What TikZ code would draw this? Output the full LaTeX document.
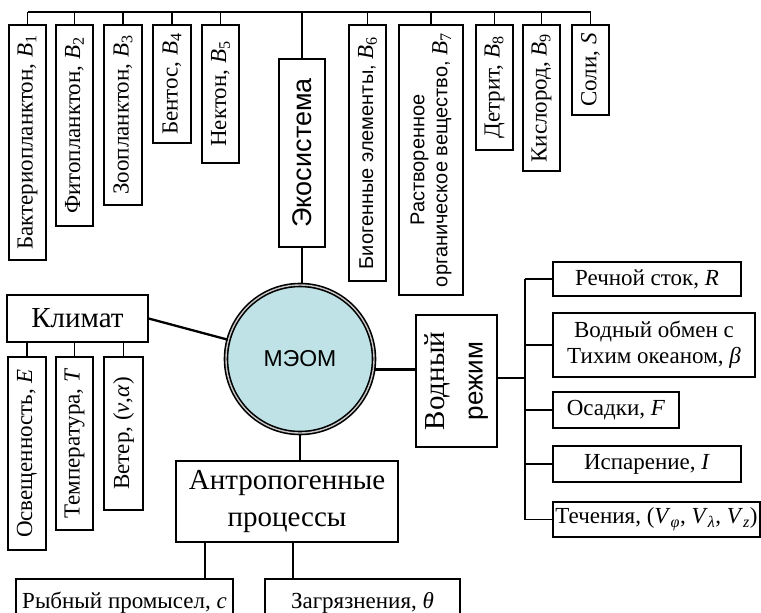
\documentclass[tikz,border=0pt]{standalone}
\usepackage{fontspec}
\setmainfont{Liberation Serif}
\setsansfont{Liberation Sans}
\usetikzlibrary{calc}
\definecolor{mcyan}{RGB}{190,226,230}
\begin{document}
\begin{tikzpicture}[x=1pt,y=-1pt,
  box/.style={draw=black, line width=1.3pt, inner sep=2pt, align=center},
  sm/.style={font=\fontsize{23}{26}\selectfont},
  smsans/.style={font=\sffamily\fontsize{20}{23}\selectfont},
  big/.style={font=\fontsize{29}{37}\selectfont},
  vbox/.style={box, rotate=90},
  ln/.style={line width=1.3pt},
  thk/.style={line width=2.3pt}]
\useasboundingbox (0,0) rectangle (761,613);
\clip (0,0) rectangle (761,613);

% top boxes
\node[vbox,sm,minimum width=235,minimum height=37] (b1) at (27.5,142.5) {Бактериопланктон, \textit{B}\textsubscript{1}};
\node[vbox,sm,minimum width=201,minimum height=37] (b2) at (74.5,125.5) {Фитопланктон, \textit{B}\textsubscript{2}};
\node[vbox,sm,minimum width=180,minimum height=38] (b3) at (123,115) {Зоопланктон, \textit{B}\textsubscript{3}};
\node[vbox,sm,minimum width=118,minimum height=38] (b4) at (172,84) {Бентос, \textit{B}\textsubscript{4}};
\node[vbox,sm,minimum width=138,minimum height=37] (b5) at (220.5,94) {Нектон, \textit{B}\textsubscript{5}};
\node[vbox,font=\sffamily\fontsize{27}{32}\selectfont,minimum width=188,minimum height=46] (eco) at (302,153) {Экосистема};
\node[vbox,smsans,minimum width=256,minimum height=37] (b6) at (367.5,153) {Биогенные элементы, {\rmfamily\fontsize{23}{23}\selectfont\textit{B}\textsubscript{6}}};
\node[vbox,smsans,minimum width=270,minimum height=64] (b7) at (431,160) {Растворенное\\органическое вещество, {\rmfamily\fontsize{23}{23}\selectfont\textit{B}\textsubscript{7}}};
\node[vbox,sm,minimum width=125,minimum height=37] (b8) at (494.5,87.5) {Детрит, \textit{B}\textsubscript{8}};
\node[vbox,sm,minimum width=146,minimum height=37] (b9) at (541.5,98) {Кислород, \textit{B}\textsubscript{9}};
\node[vbox,sm,minimum width=90,minimum height=37] (bS) at (590.5,70) {Соли, \textit{S}};

\coordinate (tb) at (0,12);
\draw[ln] (b1.east |- tb) -- (bS.east |- tb);
\foreach \n in {b1,b2,b3,b4,b5,eco,b6,b7,b8,b9,bS}
  \draw[ln] (\n.east) -- (\n.east |- tb);

% centre
\node[circle, draw=black, line width=1.6pt, double=gray!45, double distance=1.4pt,
      fill=mcyan, minimum size=148, inner sep=0,
      font=\sffamily\fontsize{23}{26}\selectfont] (m) at (300,359) {МЭОМ};
\draw[ln] (eco.west) -- (eco.west |- m.north);

% climate
\node[box,big,minimum width=141,minimum height=47] (klim) at (77.5,318.5) {Климат};
\node[vbox,sm,minimum width=193,minimum height=38] (cE) at (27,453.5) {Освещенность, \textit{E}};
\node[vbox,sm,minimum width=173,minimum height=37] (cT) at (74.5,443.5) {Температура, \textit{T}};
\node[vbox,sm,minimum width=153,minimum height=39] (cV) at (123.5,433.5) {Ветер, (\textit{v},\textit{α})};
\foreach \n in {cE,cT,cV}
  \draw[ln] (\n.east) -- (\n.east |- klim.south);
\draw[thk] (klim.east) -- (m);

% water regime
\node[vbox,minimum width=132,minimum height=81,font=\fontsize{29}{38}\selectfont] (vod) at (456.5,381)
  {Водный\\{\sffamily\fontsize{26}{38}\selectfont режим}};
\draw[thk] (m.-8.4) -- (m.-8.4 -| vod.north);

\node[box,sm,minimum width=188,minimum height=34] (rR) at (647,279) {Речной сток, \textit{R}};
\node[box,sm,minimum width=202,minimum height=64] (rB) at (654,345) {Водный обмен с\\Тихим океаном, \textit{β}};
\node[box,sm,minimum width=126,minimum height=36] (rF) at (616,410) {Осадки, \textit{F}};
\node[box,sm,minimum width=188,minimum height=36] (rI) at (647,464) {Испарение, \textit{I}};
\node[box,sm,minimum width=207,minimum height=35] (rV) at (656.5,519.5)
  {Течения, (\textit{V}\textsubscript{\textit{φ}}, \textit{V}\textsubscript{\textit{λ}}, \textit{V}\textsubscript{\textit{z}})};

\coordinate (rb) at (525,378);
\draw[ln] (vod.south |- rb) -- (rb);
\draw[ln] (rR.west -| rb) -- (rV.west -| rb);
\foreach \n in {rR,rB,rF,rI,rV}
  \draw[ln] (\n.west) -- (\n.west -| rb);

% anthropogenic
\node[box,big,minimum width=222,minimum height=81] (anth) at (287,501.5) {Антропогенные\\процессы};
\draw[ln] (m.south) -- (m.south |- anth.north);
\node[box,sm,minimum width=217,minimum height=48] (fish) at (124.5,603) {Рыбный промысел, \textit{c}};
\node[box,sm,minimum width=195,minimum height=48] (pol) at (362.5,603) {Загрязнения, \textit{θ}};
\coordinate (s1) at (205,0);
\coordinate (s2) at (293,0);
\draw[ln] (anth.south -| s1) -- (fish.north -| s1);
\draw[ln] (anth.south -| s2) -- (pol.north -| s2);
\end{tikzpicture}
\end{document}
